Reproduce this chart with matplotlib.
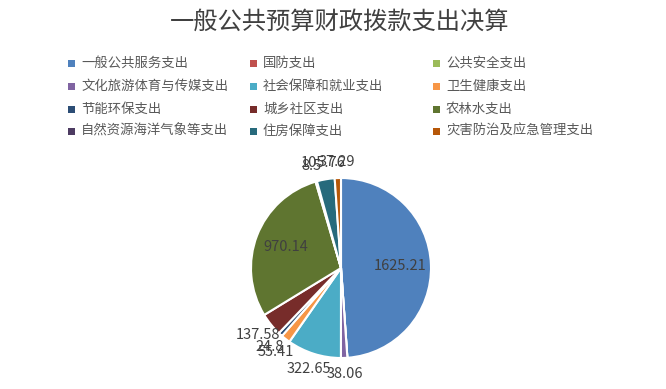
import matplotlib
matplotlib.use("Agg")
import matplotlib.pyplot as plt
import numpy as np

plt.rcParams['font.family'] = ['Noto Sans CJK SC', 'DejaVu Sans']

title = "一般公共预算财政拨款支出决算"
categories = ["一般公共服务支出", "国防支出", "公共安全支出",
              "文化旅游体育与传媒支出", "社会保障和就业支出", "卫生健康支出",
              "节能环保支出", "城乡社区支出", "农林水支出",
              "自然资源海洋气象等支出", "住房保障支出", "灾害防治及应急管理支出"]
values = [1625.21, 0.0, 0.0, 38.06, 322.65, 55.41, 24.8, 137.58, 970.14, 8.5, 105.76, 37.29]
colors = ["#4F81BD", "#C0504D", "#9BBB59", "#8064A2", "#4BACC6", "#F79646",
          "#2C4D75", "#772C2A", "#5F7530", "#4D3B62", "#276A7C", "#B65708"]
inside = [True, False, False, False, False, False, False, False, True, False, False, False]

W, H = 666, 389
fig = plt.figure(figsize=(W / 100, H / 100), dpi=100)

# title
fig.text(340 / W, 1 - 22 / H, title, ha='center', va='center', fontsize=17.5, color='#404040')

# legend (manual, row-wise, 3 columns)
col_x = [68, 250, 433]
row_y = [63, 86, 109, 131]
for i, (cat, col) in enumerate(zip(categories, colors)):
    r, c = divmod(i, 3)
    x = col_x[c]
    y = row_y[r]
    fig.patches.append(plt.Rectangle((x / W, 1 - (y + 3.5) / H), 7 / W, 7 / H,
                                     transform=fig.transFigure, facecolor=col,
                                     edgecolor='none'))
    fig.text((x + 13) / W, 1 - y / H, cat, ha='left', va='center', fontsize=9.6,
             color='#595959')

# pie
R = 90
cx, cy = 341, 268
half = 120
ax = fig.add_axes([(cx - half) / W, (H - cy - half) / H, 2 * half / W, 2 * half / H])

wedges, _ = ax.pie(values, colors=colors, startangle=90, counterclock=False,
                   radius=1.0, wedgeprops=dict(edgecolor='white', linewidth=1.5))
ax.set_xlim(-half / R, half / R)
ax.set_ylim(-half / R, half / R)
ax.set_aspect('equal')
ax.axis('off')

total = sum(values)
cum = 0.0
for v, ins in zip(values, inside):
    start = cum
    cum += v
    if v <= 0:
        continue
    mid = (start + v / 2) / total * 2 * np.pi  # clockwise from top
    rr = 0.66 if ins else 1.18
    x = rr * np.sin(mid)
    y = rr * np.cos(mid)
    ax.text(x, y, f"{v:g}", ha='center', va='center', fontsize=10.5, color='#404040',
            clip_on=False)

fig.savefig("out.png", dpi=100)
